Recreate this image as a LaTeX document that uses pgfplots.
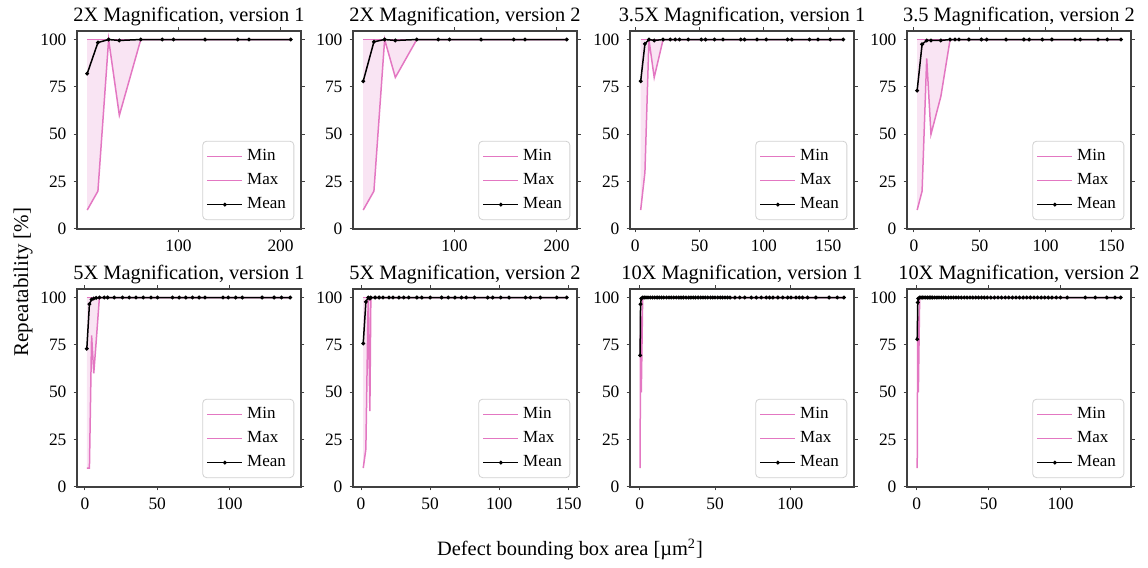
\documentclass[border=0pt]{standalone}
\usepackage{fontspec}
\setmainfont{Liberation Serif}
\usepackage{pgfplots}
\usepackage{pgfplotstable}
\pgfplotsset{compat=1.18}
\usepgfplotslibrary{fillbetween}

\definecolor{tabpink}{HTML}{E377C2}
\definecolor{spine}{HTML}{404040}

% repeatability per panel: x = box area, min / max / mean over repeats
\pgfplotstableread{
x min max mean
10.5 10 100 82
21 20 100 98.4
31.5 100 100 100
42 60 100 99.5
63 100 100 100
84 100 100 100
95 100 100 100
126 100 100 100
158 100 100 100
169 100 100 100
210 100 100 100
}\tabA
\pgfplotstableread{
x min max mean
10.5 10 100 78
21 20 100 98.8
31.5 100 100 100
42 80 100 99.5
63 100 100 100
84 100 100 100
95 100 100 100
126 100 100 100
158 100 100 100
169 100 100 100
210 100 100 100
}\tabB
\pgfplotstableread{
x min max mean
4.3 10 100 78
7.6 30 100 97.7
10.7 100 100 100
14.8 80 100 99.5
21.7 100 100 100
27.3 100 100 100
31.1 100 100 100
34.4 100 100 100
41.2 100 100 100
51.4 100 100 100
54.7 100 100 100
61.6 100 100 100
68.2 100 100 100
82 100 100 100
85 100 100 100
94.7 100 100 100
101.8 100 100 100
118.3 100 100 100
121.7 100 100 100
135.4 100 100 100
142 100 100 100
151.5 100 100 100
161.6 100 100 100
}\tabC
\pgfplotstableread{
x min max mean
2.5 10 100 73
6.25 20 100 97.5
9.75 90 100 99.5
13 50 100 99.5
20.5 70 100 99.5
27.5 100 100 100
31.25 100 100 100
34.25 100 100 100
41.75 100 100 100
51.25 100 100 100
55.25 100 100 100
70 100 100 100
83.5 100 100 100
87.5 100 100 100
97.5 100 100 100
104.75 100 100 100
122.25 100 100 100
126.25 100 100 100
139.75 100 100 100
146.75 100 100 100
157.25 100 100 100
}\tabD
\pgfplotstableread{
x min max mean
1.3 10 100 73
3.1 10 100 96.5
4.6 80 100 99
6.1 60 100 99.5
7.7 76 100 99.8
10 100 100 100
13.4 100 100 100
15.7 100 100 100
20.3 100 100 100
26 100 100 100
30.7 100 100 100
35.3 100 100 100
40.3 100 100 100
45.7 100 100 100
50.2 100 100 100
60.6 100 100 100
65.2 100 100 100
69.8 100 100 100
74.4 100 100 100
79 100 100 100
83.1 100 100 100
95.5 100 100 100
99.2 100 100 100
104.3 100 100 100
108.9 100 100 100
122.6 100 100 100
130.9 100 100 100
136 100 100 100
142 100 100 100
}\tabE
\pgfplotstableread{
x min max mean
1.6 10 100 75.7
3.5 20 100 97.7
5.2 100 100 100
6.4 40 100 99.5
7.1 100 100 100
10.2 100 100 100
13.1 100 100 100
15.9 100 100 100
20.2 100 100 100
23.1 100 100 100
27.4 100 100 100
30.9 100 100 100
34.5 100 100 100
40.4 100 100 100
44 100 100 100
50 100 100 100
58.3 100 100 100
63.1 100 100 100
67.9 100 100 100
72.6 100 100 100
76.1 100 100 100
82.1 100 100 100
91.6 100 100 100
95.2 100 100 100
101.1 100 100 100
107.1 100 100 100
119 100 100 100
122.6 100 100 100
129.7 100 100 100
141.6 100 100 100
148.8 100 100 100
}\tabF
\pgfplotstableread{
x min max mean
0.3 10 100 69.5
0.6 90 100 96.5
1.1 50 100 99.5
2 100 100 100
3 100 100 100
4.2 100 100 100
5.5 100 100 100
7 100 100 100
8.5 100 100 100
10 100 100 100
11.6 100 100 100
13 100 100 100
14.5 100 100 100
16 100 100 100
17.8 100 100 100
19.5 100 100 100
21 100 100 100
22.6 100 100 100
24.3 100 100 100
26 100 100 100
27.5 100 100 100
29 100 100 100
30.8 100 100 100
32.5 100 100 100
34 100 100 100
35.6 100 100 100
37 100 100 100
38.8 100 100 100
40.5 100 100 100
42 100 100 100
43.5 100 100 100
45.2 100 100 100
47 100 100 100
48.5 100 100 100
50 100 100 100
51.8 100 100 100
53.5 100 100 100
55 100 100 100
56.6 100 100 100
58.3 100 100 100
60 100 100 100
63.2 100 100 100
66.4 100 100 100
69.7 100 100 100
74.1 100 100 100
77.4 100 100 100
80.7 100 100 100
84 100 100 100
86.2 100 100 100
88.4 100 100 100
91.7 100 100 100
94.9 100 100 100
98.2 100 100 100
100.4 100 100 100
103.7 100 100 100
105.9 100 100 100
108.1 100 100 100
111.4 100 100 100
116.9 100 100 100
125.7 100 100 100
131.1 100 100 100
135.5 100 100 100
}\tabG
\pgfplotstableread{
x min max mean
0.3 10 100 78
0.7 90 100 97.4
1.1 50 100 99.5
2 100 100 100
3 100 100 100
4 100 100 100
5 100 100 100
6.2 100 100 100
7.4 100 100 100
8.6 100 100 100
9.8 100 100 100
11 100 100 100
12.5 100 100 100
14 100 100 100
15.5 100 100 100
17 100 100 100
18.6 100 100 100
20.2 100 100 100
22 100 100 100
23.8 100 100 100
25.5 100 100 100
27.3 100 100 100
29 100 100 100
31 100 100 100
33 100 100 100
35 100 100 100
37 100 100 100
39 100 100 100
41 100 100 100
43 100 100 100
45 100 100 100
47 100 100 100
49 100 100 100
51.5 100 100 100
54 100 100 100
56.5 100 100 100
59 100 100 100
61.5 100 100 100
64 100 100 100
66.5 100 100 100
69 100 100 100
71.5 100 100 100
74 100 100 100
76.5 100 100 100
79 100 100 100
81.5 100 100 100
84 100 100 100
86.5 100 100 100
89 100 100 100
91.5 100 100 100
94 100 100 100
97 100 100 100
100 100 100 100
104.6 100 100 100
117.2 100 100 100
124.1 100 100 100
132.2 100 100 100
137.9 100 100 100
141.8 100 100 100
}\tabH

\pgfplotsset{
  panel/.style={
    scale only axis, width=112pt, height=99pt, anchor=south west,
    ymin=0, ymax=104.5, ytick={0,25,50,75,100},
    axis line style={spine, line width=0.6pt},
    tick align=outside, major tick length=1.75pt,
    tick style={spine, line width=0.5pt},
    tick label style={font=\fontsize{8.7}{9}\selectfont},
    /pgf/number format/assume math mode=true,
    title style={font=\fontsize{10.2}{12}\selectfont, at={(0.5,1)}, anchor=base, yshift=-1.5pt, inner sep=0pt},
    legend style={at={(0.97,0.045)}, anchor=south east, draw=black!18, rounded corners=2pt,
      fill=white, font=\fontsize{8.5}{9}\selectfont, row sep=1pt, inner xsep=2pt, inner ysep=2pt},
    legend cell align=left,
    legend image code/.code={%
      \draw[mark repeat=2,mark phase=2,##1] plot coordinates {(0pt,0pt) (8.75pt,0pt) (17.5pt,0pt)};},
  },
}

\newcommand{\panel}[6]{%
\begin{axis}[panel, at={(#1)}, title={#2}, xmin=#4, xmax=#5, xtick={#6}]
\addplot[tabpink, line width=0.75pt, name path=lo] table[x=x,y=min] {#3};
\addlegendentry{Min}
\addplot[tabpink, line width=0.75pt, name path=hi] table[x=x,y=max] {#3};
\addlegendentry{Max}
\addplot[fill=tabpink, fill opacity=0.2, draw=none, forget plot] fill between[of=hi and lo];
\addplot[black, line width=0.75pt, mark=*, mark size=0.55pt] table[x=x,y=mean] {#3};
\addlegendentry{Mean}
\end{axis}}

\begin{document}
\begin{tikzpicture}
\panel{38.5pt,169.5pt}{2X Magnification, version 1}{\tabA}{0.5}{220}{100,200}
\panel{176.5pt,169.5pt}{2X Magnification, version 2}{\tabB}{0.5}{220}{100,200}
\panel{315pt,169.5pt}{3.5X Magnification, version 1}{\tabC}{-4}{170}{0,50,100,150}
\panel{453.5pt,169.5pt}{3.5 Magnification, version 2}{\tabD}{-5.2}{164.8}{0,50,100,150}
\panel{38.5pt,40.5pt}{5X Magnification, version 1}{\tabE}{-5.5}{149.5}{0,50,100}
\panel{176.5pt,40.5pt}{5X Magnification, version 2}{\tabF}{-5.8}{156.2}{0,50,100,150}
\panel{315pt,40.5pt}{10X Magnification, version 1}{\tabG}{-6.4}{142.2}{0,50,100}
\panel{453.5pt,40.5pt}{10X Magnification, version 2}{\tabH}{-6.8}{149}{0,50,100}
\node[rotate=90, font=\fontsize{10.5}{12}\selectfont] at (11.5pt,143pt) {Repeatability [\%]};
\node[anchor=base, font=\fontsize{10.2}{12}\selectfont] at (285pt,6pt) {Defect bounding box area [µm\textsuperscript{2}]};
\path (0,0) rectangle (574pt,284pt);
\end{tikzpicture}
\end{document}
